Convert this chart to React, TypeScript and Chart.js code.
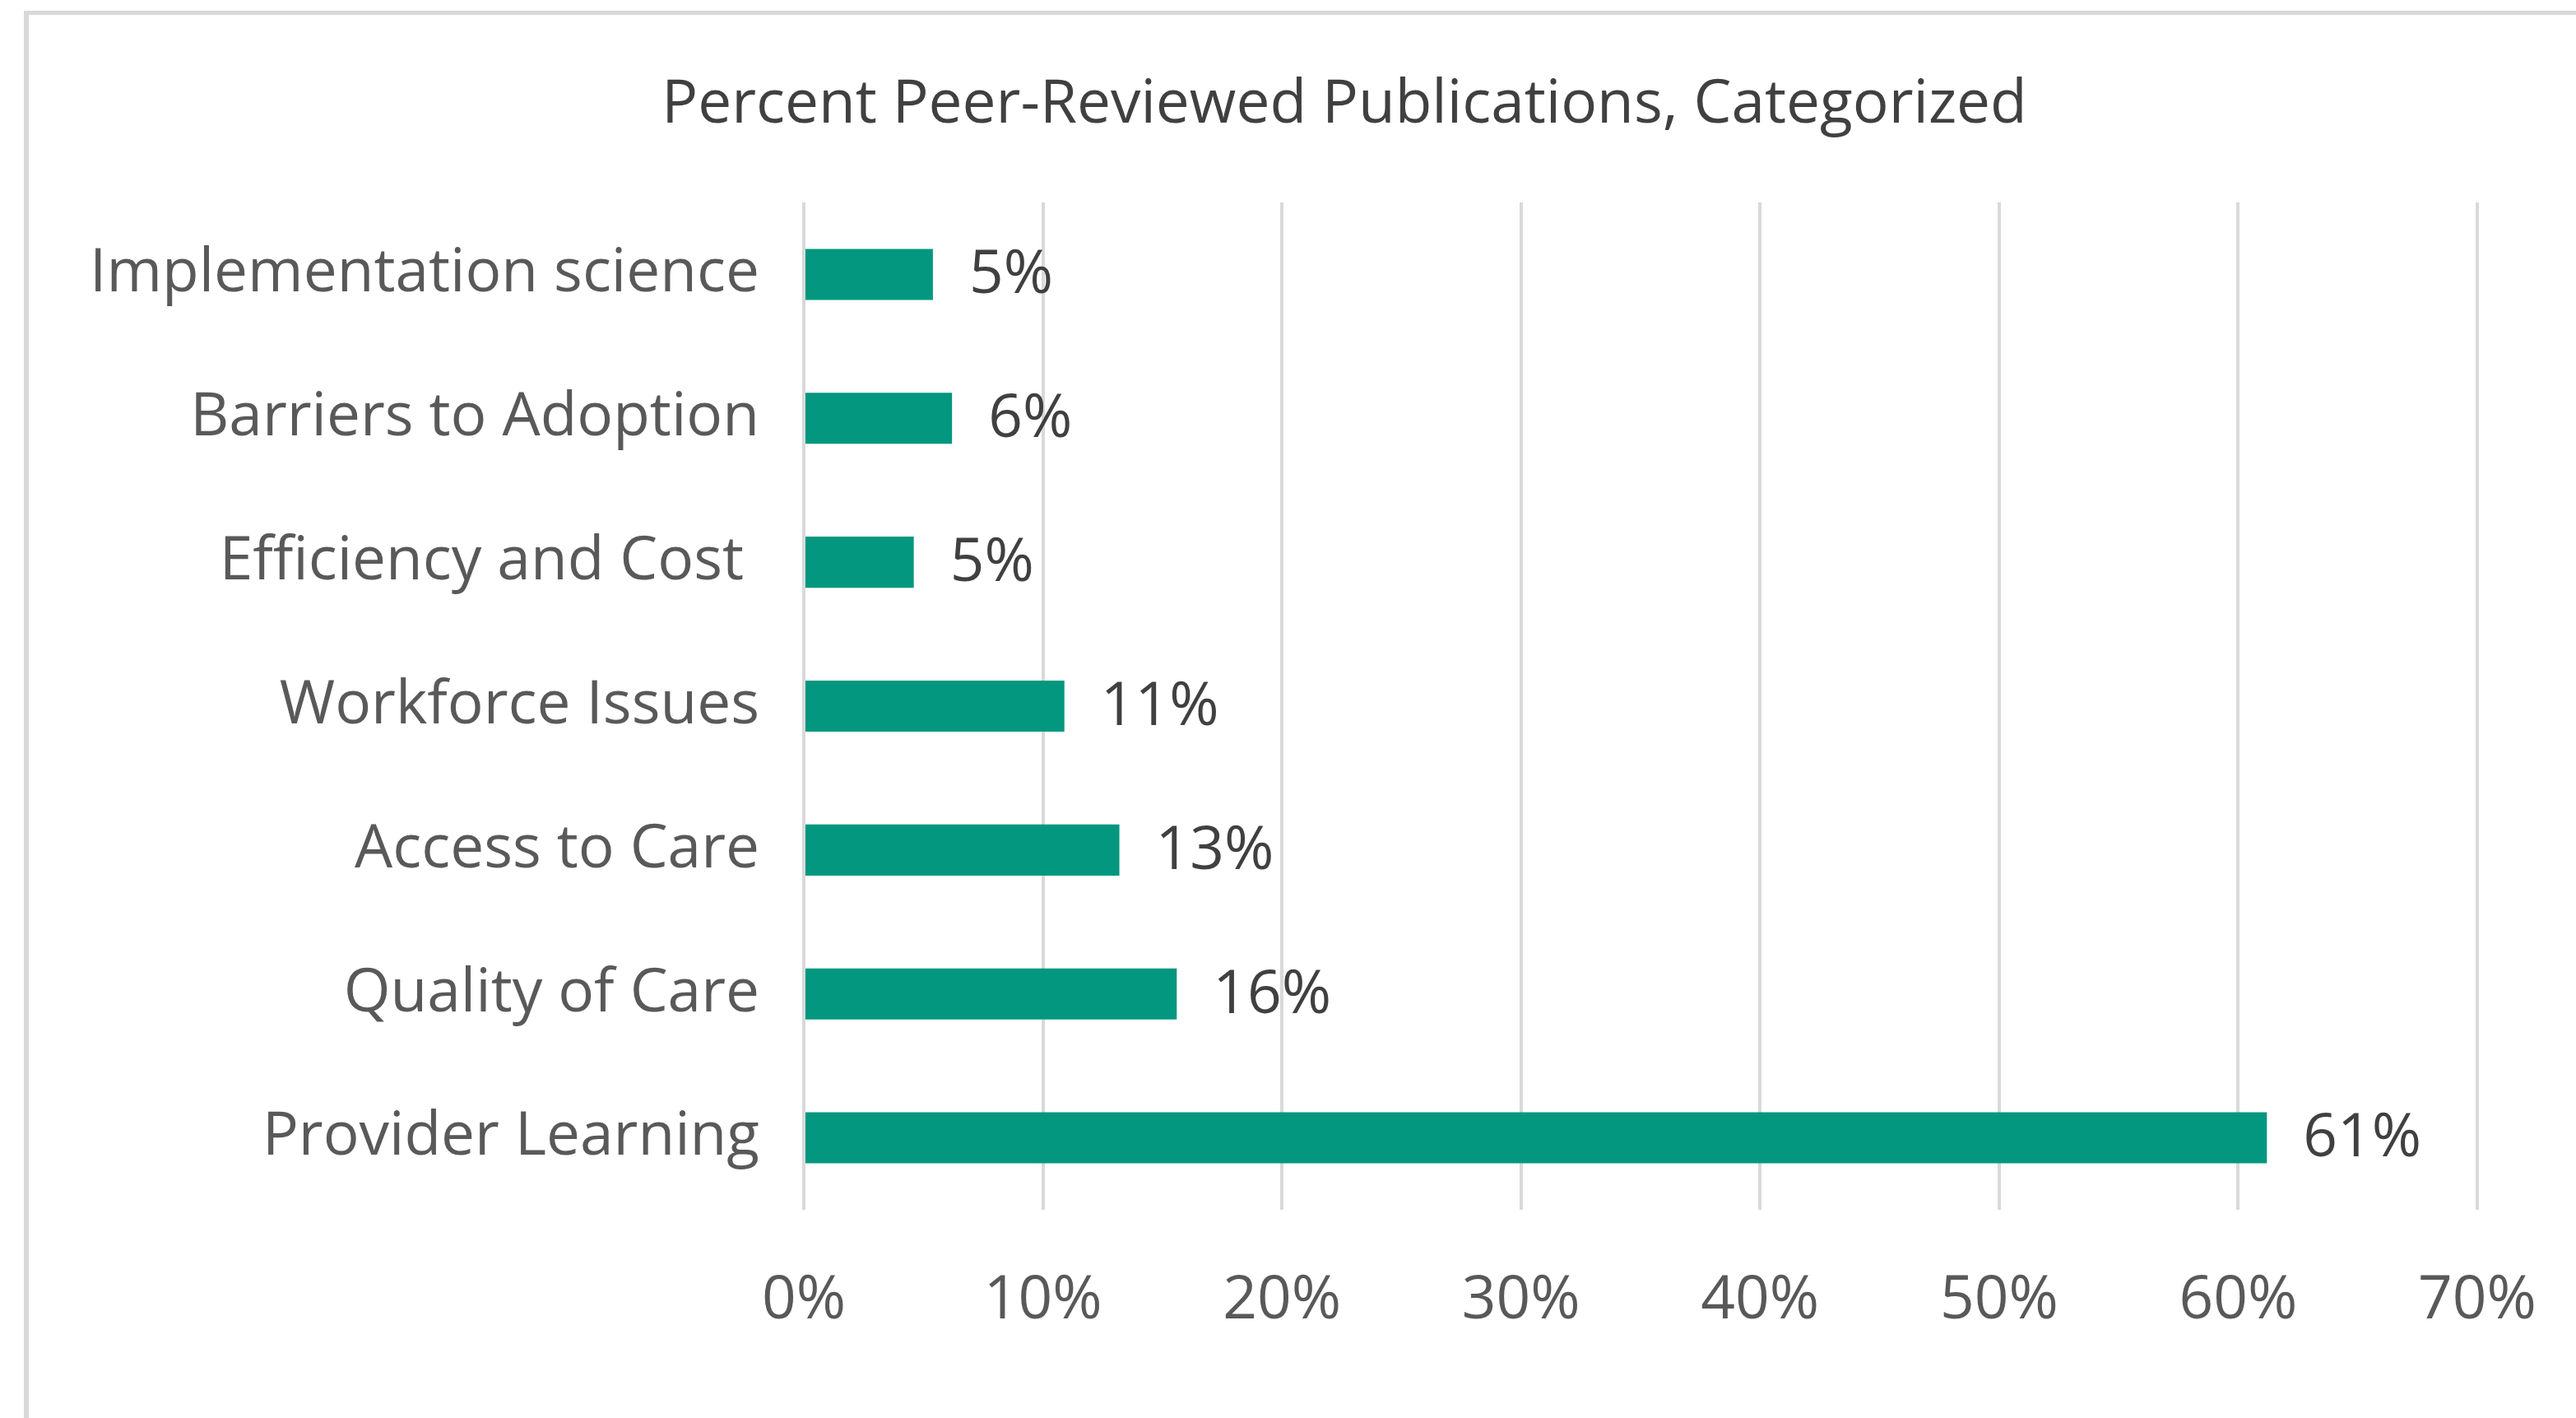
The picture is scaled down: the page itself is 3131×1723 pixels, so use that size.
import React, { useEffect, useRef } from "react";
import { Chart, registerables } from "chart.js";

Chart.register(...registerables);

const TITLE = "Percent Peer-Reviewed Publications, Categorized";
const CATEGORIES = [
  "Implementation science",
  "Barriers to Adoption",
  "Efficiency and Cost ",
  "Workforce Issues",
  "Access to Care",
  "Quality of Care",
  "Provider Learning",
];
const VALUES = [5.4, 6.2, 4.6, 10.9, 13.2, 15.6, 61.2];
const X_MIN = 0;
const X_MAX = 70;
const X_STEP = 10;

const FONT = "'Open Sans', 'Noto Sans', sans-serif";
const FONT_SIZE = 73;

const valueLabels = {
  id: "valueLabels",
  afterDatasetsDraw(chart: any) {
    const ctx = chart.ctx;
    const meta = chart.getDatasetMeta(0);
    ctx.save();
    ctx.font = `${FONT_SIZE}px ${FONT}`;
    ctx.fillStyle = "#404040";
    ctx.textAlign = "left";
    ctx.textBaseline = "middle";
    meta.data.forEach((bar: any, i: number) => {
      const v = chart.data.datasets[0].data[i] as number;
      ctx.fillText(Math.round(v) + "%", bar.x + 44, bar.y + 2);
    });
    ctx.restore();
  },
};

const titlePlugin = {
  id: "customTitle",
  afterDraw(chart: any) {
    const ctx = chart.ctx;
    ctx.save();
    ctx.font = `${FONT_SIZE}px ${FONT}`;
    ctx.fillStyle = "#404040";
    ctx.textAlign = "center";
    ctx.textBaseline = "alphabetic";
    ctx.fillText(TITLE, 1634, 149);
    ctx.restore();
  },
};

export default function App() {
  const ref = useRef<HTMLCanvasElement | null>(null);
  useEffect(() => {
    if (!ref.current) return;
    const chart = new Chart(ref.current, {
      type: "bar",
      data: {
        labels: CATEGORIES,
        datasets: [
          {
            data: VALUES,
            backgroundColor: "#03977F",
            borderWidth: 0,
            categoryPercentage: 1,
            barPercentage: 0.355,
          },
        ],
      },
      plugins: [valueLabels, titlePlugin],
      options: {
        indexAxis: "y",
        responsive: false,
        animation: false,
        devicePixelRatio: 1,
        layout: { padding: { left: 0, right: 120, top: 246, bottom: 0 } },
        plugins: {
          legend: { display: false },
          tooltip: { enabled: false },
          title: { display: false },
        },
        scales: {
          x: {
            min: X_MIN,
            max: X_MAX,
            ticks: {
              stepSize: X_STEP,
              color: "#595959",
              font: { family: FONT, size: FONT_SIZE },
              padding: 67,
              callback: (v: any) => v + "%",
            },
            grid: { color: "#d9d9d9", lineWidth: 4, drawTicks: false },
            border: { display: false },
            afterFit: (s: any) => {
              s.height = 253;
              s.paddingLeft = 0;
              s.paddingRight = 0;
            },
          },
          y: {
            ticks: {
              color: "#595959",
              font: { family: FONT, size: FONT_SIZE },
              padding: 54,
            },
            grid: { display: false, drawTicks: false },
            border: { display: false },
            afterFit: (s: any) => {
              s.width = 977;
              s.paddingTop = 0;
              s.paddingBottom = 0;
            },
          },
        },
      },
    });
    return () => chart.destroy();
  }, []);

  return (
    <>
      <div
        style={{
          position: "fixed",
          left: 29,
          top: 13,
          width: 3131 - 29,
          height: 1723 - 13,
          borderTop: "5px solid #d9d9d9",
          borderLeft: "6px solid #d9d9d9",
          boxSizing: "border-box",
          background: "#fff",
        }}
      />
      <canvas
        ref={ref}
        width={3131}
        height={1723}
        style={{ position: "fixed", left: 0, top: 0, width: 3131, height: 1723 }}
      />
    </>
  );
}
